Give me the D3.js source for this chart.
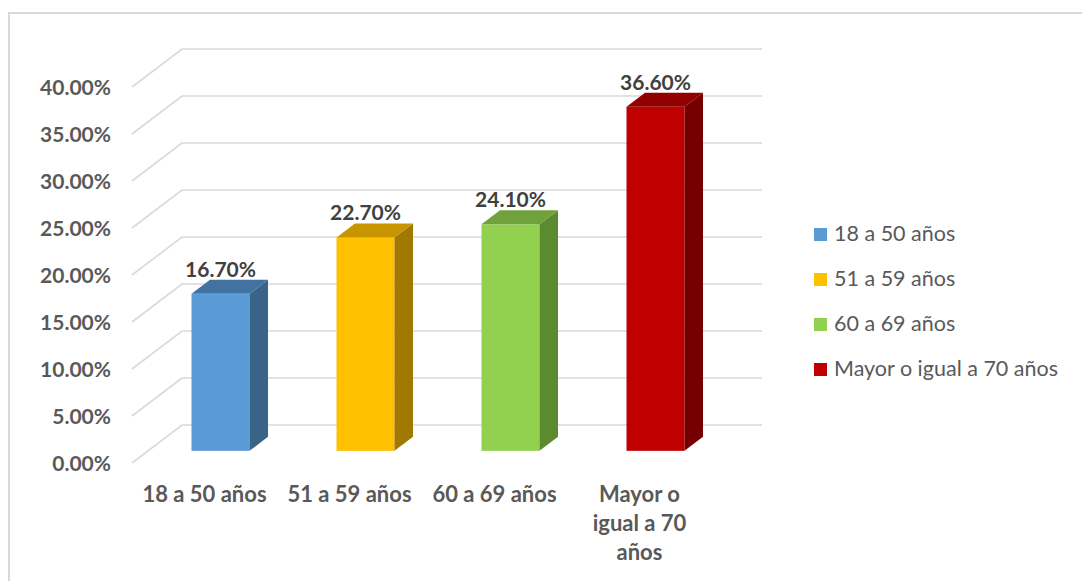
<!DOCTYPE html>
<html>
<head>
<meta charset="utf-8">
<script src="https://cdn.jsdelivr.net/npm/d3@7"></script>
<style>
  html, body { margin: 0; padding: 0; background: #fff; }
  svg { display: block; font-family: Lato, "Open Sans", sans-serif; }
</style>
</head>
<body>
<svg id="chart" width="1082" height="581"></svg>
<script>
// Age groups and their share of the total
const categories = ["18 a 50 años", "51 a 59 años", "60 a 69 años", "Mayor o igual a 70 años"];
const values = [16.7, 22.7, 24.1, 36.6];
const valueLabels = ["16.70%", "22.70%", "24.10%", "36.60%"];
const axisLines = [["18 a 50 años"], ["51 a 59 años"], ["60 a 69 años"], ["Mayor o", "igual a 70", "años"]];
const yTicks = [0, 5, 10, 15, 20, 25, 30, 35, 40];

// Face colours per column: front, top, side
const frontColors = ["#5B9BD5", "#FFC000", "#92D050", "#C00000"];
const topColors   = ["#4272A0", "#C69500", "#6FA13D", "#930000"];
const sideColors  = ["#396387", "#A17800", "#5C8A31", "#760000"];

const svg = d3.select("#chart");

// Outer frame of the chart area
svg.append("path")
  .attr("d", "M9,581 L9,13 L1082,13")
  .attr("fill", "none")
  .attr("stroke", "#D9D9D9")
  .attr("stroke-width", 2);

// Front-plane scales; depth is an oblique offset
const x = d3.scaleBand().domain(categories).range([132, 712])
  .paddingInner(0.6).paddingOuter(0.3);
const y = d3.scaleLinear().domain([0, 40]).range([463, 87]);
const DX = 50, DY = 38;          // full floor depth offset
const d0 = 0.32, d1 = 0.69;      // column depth span

// Gridlines: left wall diagonal + back wall horizontal
const grid = svg.append("g").attr("stroke", "#D9D9D9").attr("stroke-width", 1.6).attr("fill", "none");
yTicks.forEach(t => {
  const yf = y(t);
  grid.append("path")
    .attr("d", `M${x.range()[0]},${yf} L${x.range()[0] + DX},${yf - DY} L${x.range()[1] + DX},${yf - DY}`);
});

// Y tick labels
svg.append("g").selectAll("text").data(yTicks).join("text")
  .attr("x", 111)
  .attr("y", d => y(d) + 8)
  .attr("text-anchor", "end")
  .attr("font-size", 21)
  .attr("font-weight", "bold")
  .attr("fill", "#595959")
  .text(d => d.toFixed(2) + "%");

// Columns
const dd = d1 - d0;
const bars = svg.append("g");
categories.forEach((c, i) => {
  const x0 = x(c) + d0 * DX;
  const x1 = x0 + x.bandwidth();
  const yTop = y(values[i]) - d0 * DY;
  const yBot = y(0) - d0 * DY;
  const ox = dd * DX, oy = dd * DY;
  const g = bars.append("g");
  g.append("rect")
    .attr("x", x0).attr("y", yTop)
    .attr("width", x1 - x0).attr("height", yBot - yTop)
    .attr("fill", frontColors[i]);
  g.append("path")
    .attr("d", `M${x1},${yTop} L${x1 + ox},${yTop - oy} L${x1 + ox},${yBot - oy} L${x1},${yBot} Z`)
    .attr("fill", sideColors[i]);
  g.append("path")
    .attr("d", `M${x0},${yTop} L${x0 + ox},${yTop - oy} L${x1 + ox},${yTop - oy} L${x1},${yTop} Z`)
    .attr("fill", topColors[i]);
  // Value label above the column
  g.append("text")
    .attr("x", (x0 + x1) / 2)
    .attr("y", yTop - oy - 3)
    .attr("text-anchor", "middle")
    .attr("font-size", 21)
    .attr("font-weight", "bold")
    .attr("fill", "#404040")
    .text(valueLabels[i]);
});

// Category labels on the floor front edge
const cat = svg.append("g");
categories.forEach((c, i) => {
  const cx = x(c) + x.bandwidth() / 2;
  const t = cat.append("text")
    .attr("text-anchor", "middle")
    .attr("font-size", 22)
    .attr("font-weight", "bold")
    .attr("fill", "#595959");
  axisLines[i].forEach((line, j) => {
    t.append("tspan").attr("x", cx).attr("y", 502 + j * 29).text(line);
  });
});

// Legend
const legend = svg.append("g");
categories.forEach((c, i) => {
  const ly = 228 + i * 45;
  legend.append("rect")
    .attr("x", 814).attr("y", ly)
    .attr("width", 13).attr("height", 13)
    .attr("fill", frontColors[i]);
  legend.append("text")
    .attr("x", 834).attr("y", ly + 13)
    .attr("font-size", 21.5)
    .attr("fill", "#595959")
    .text(c);
});
</script>
</body>
</html>
